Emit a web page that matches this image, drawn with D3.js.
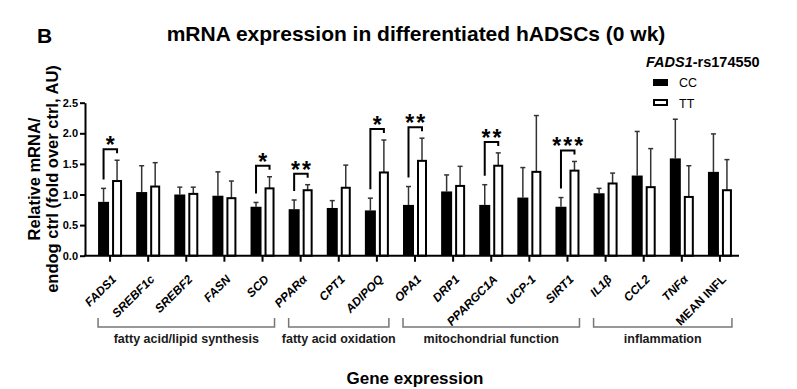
<!DOCTYPE html>
<html>
  <head>
    <meta charset="utf-8">
    <title>mRNA expression in differentiated hADSCs</title>
    <script src="https://cdn.jsdelivr.net/npm/d3@7"></script>
    <style>
      body { margin: 0; background: #fff; }
      svg { font-family: "Liberation Sans", Arial, sans-serif; }
      .tick text { font-weight: bold; }
    </style>
  </head>
  <body>
    <svg id="chart" width="797" height="389"></svg>
    <script>
      // data
      var genes = ["FADS1", "SREBF1c", "SREBF2", "FASN", "SCD", "PPAR\u03b1", "CPT1", "ADIPOQ",
        "OPA1", "DRP1", "PPARGC1A", "UCP-1", "SIRT1", "IL1\u03b2", "CCL2", "TNF\u03b1", "MEAN INFL"];
      var ccMean = [0.88, 1.04, 1.00, 0.98, 0.80, 0.76, 0.78, 0.74, 0.83, 1.05, 0.83, 0.95, 0.80, 1.02, 1.31, 1.59, 1.37];
      var ccErr  = [1.10, 1.47, 1.12, 1.37, 0.87, 0.91, 0.90, 0.94, 1.13, 1.32, 1.16, 1.44, 0.95, 1.10, 2.03, 2.23, 1.99];
      var ttMean = [1.22, 1.13, 1.01, 0.94, 1.10, 1.07, 1.11, 1.36, 1.55, 1.14, 1.47, 1.37, 1.39, 1.18, 1.12, 0.96, 1.07];
      var ttErr  = [1.56, 1.52, 1.12, 1.22, 1.29, 1.16, 1.48, 1.89, 1.92, 1.46, 1.68, 2.29, 1.54, 1.35, 1.75, 1.47, 1.57];
      var sigGenes  = ["FADS1", "SCD", "PPAR\u03b1", "ADIPOQ", "OPA1", "PPARGC1A", "SIRT1"];
      var sigLabels = ["*", "*", "**", "*", "**", "**", "***"];
      var groupNames = ["fatty acid/lipid synthesis", "fatty acid oxidation", "mitochondrial function", "inflammation"];
      var groupFirst = ["FADS1", "PPAR\u03b1", "OPA1", "IL1\u03b2"];
      var groupLast  = ["SCD", "ADIPOQ", "SIRT1", "MEAN INFL"];
      var yTicks = [0, 0.5, 1.0, 1.5, 2.0, 2.5];

      var svg = d3.select("#chart");
      var x = d3.scaleBand().domain(genes).range([91, 739]);
      var y = d3.scaleLinear().domain([0, 2.5]).range([255.7, 102.7]);
      var cx = function(g) { return x(g) + x.bandwidth() / 2; };
      var barW = 10;

      // bars
      var rows = genes.map(function(g, i) {
        return { gene: g, cc: ccMean[i], ccE: ccErr[i], tt: ttMean[i], ttE: ttErr[i] };
      });
      var grp = svg.append("g");
      // error bars first (behind)
      function errBar(sel, off, val, err) {
        sel.append("line")
          .attr("x1", function(d) { return cx(d.gene) + off; })
          .attr("x2", function(d) { return cx(d.gene) + off; })
          .attr("y1", function(d) { return y(d[val]); })
          .attr("y2", function(d) { return y(d[err]); })
          .attr("stroke", "#333").attr("stroke-width", 1.5);
        sel.append("line")
          .attr("x1", function(d) { return cx(d.gene) + off - 2.5; })
          .attr("x2", function(d) { return cx(d.gene) + off + 2.5; })
          .attr("y1", function(d) { return y(d[err]); })
          .attr("y2", function(d) { return y(d[err]); })
          .attr("stroke", "#333").attr("stroke-width", 1.5);
      }
      var g = grp.selectAll("g.gene").data(rows).enter().append("g").attr("class", "gene");
      errBar(g, -6.5, "cc", "ccE");
      errBar(g, 7, "tt", "ttE");
      g.append("rect")
        .attr("x", function(d) { return cx(d.gene) - 12; })
        .attr("width", barW + 1)
        .attr("y", function(d) { return y(d.cc); })
        .attr("height", function(d) { return y(0) - y(d.cc); })
        .attr("fill", "#000");
      g.append("rect")
        .attr("x", function(d) { return cx(d.gene) + 3; })
        .attr("width", barW - 2)
        .attr("y", function(d) { return y(d.tt); })
        .attr("height", function(d) { return y(0) - y(d.tt); })
        .attr("fill", "#fff").attr("stroke", "#000").attr("stroke-width", 2);

      // significance brackets
      sigGenes.forEach(function(s, i) {
        var k = genes.indexOf(s);
        var top = y(ttErr[k]) - 11;
        var xl = cx(s) - 6.5, xr = cx(s) + 7;
        svg.append("path")
          .attr("d", "M" + xl + "," + (y(ccErr[k]) - 9) + "V" + top + "H" + xr + "V" + (top + 4))
          .attr("fill", "none").attr("stroke", "#000").attr("stroke-width", 2);
        svg.append("text")
          .attr("x", (xl + xr) / 2 + 1).attr("y", top + 4)
          .attr("text-anchor", "middle")
          .attr("font-size", 23).attr("font-weight", "bold")
          .attr("letter-spacing", 2)
          .text(sigLabels[i]);
      });

      // axes
      var yAxis = d3.axisLeft(y).tickValues(yTicks).tickFormat(d3.format(".1f"))
        .tickSize(5).tickSizeOuter(0).tickPadding(2);
      var ya = svg.append("g").attr("transform", "translate(85,0)").call(yAxis);
      ya.select(".domain").attr("stroke-width", 2);
      ya.selectAll(".tick line").attr("stroke-width", 2);
      ya.selectAll(".tick text").attr("font-size", 11).attr("font-family", "Liberation Sans");

      var xAxis = d3.axisBottom(x).tickSize(6).tickSizeOuter(0).tickFormat("");
      var xa = svg.append("g").attr("transform", "translate(0," + y(0) + ")").call(xAxis);
      xa.select(".domain").remove();
      xa.selectAll(".tick line").attr("stroke-width", 2);
      svg.append("line").attr("x1", 84).attr("x2", 739)
        .attr("y1", y(0)).attr("y2", y(0))
        .attr("stroke", "#000").attr("stroke-width", 2);

      svg.append("g").selectAll("text").data(genes).enter().append("text")
        .attr("transform", function(d) { return "translate(" + (cx(d) + 7) + ",280) rotate(-45)"; })
        .attr("text-anchor", "end")
        .attr("font-size", 12).attr("font-weight", "bold")
        .attr("font-style", function(d) { return d === "MEAN INFL" ? "normal" : "italic"; })
        .text(function(d) { return d; });

      // category groups
      groupNames.forEach(function(name, i) {
        var x0 = cx(groupFirst[i]) - 12, x1 = cx(groupLast[i]) + 12;
        svg.append("path")
          .attr("d", "M" + x0 + ",318V327H" + x1 + "V318")
          .attr("fill", "none").attr("stroke", "#777").attr("stroke-width", 1.5);
        svg.append("text")
          .attr("x", (x0 + x1) / 2).attr("y", 343)
          .attr("text-anchor", "middle")
          .attr("font-size", 12.5).attr("font-weight", "bold").attr("fill", "#1a1a1a")
          .text(name);
      });

      // titles
      svg.append("text").attr("x", 37).attr("y", 43)
        .attr("font-size", 21).attr("font-weight", "bold").text("B");
      svg.append("text").attr("x", 416).attr("y", 41)
        .attr("text-anchor", "middle")
        .attr("font-size", 21).attr("font-weight", "bold")
        .text("mRNA expression in differentiated hADSCs (0 wk)");
      svg.append("text").attr("x", 415).attr("y", 384)
        .attr("text-anchor", "middle")
        .attr("font-size", 17).attr("font-weight", "bold")
        .text("Gene expression");
      var yl = svg.append("text")
        .attr("transform", "translate(0,179) rotate(-90)")
        .attr("text-anchor", "middle")
        .attr("font-size", 16.5).attr("font-weight", "bold");
      yl.append("tspan").attr("x", 0).attr("y", 40).text("Relative mRNA/");
      yl.append("tspan").attr("x", 0).attr("y", 58).text("endog ctrl (fold over ctrl, AU)");

      // legend
      var lt = svg.append("text").attr("x", 646).attr("y", 67)
        .attr("font-size", 14.5).attr("font-weight", "bold");
      lt.append("tspan").attr("font-style", "italic").text("FADS1");
      lt.append("tspan").text("-rs174550");
      svg.append("rect").attr("x", 653).attr("y", 79).attr("width", 15).attr("height", 7).attr("fill", "#000");
      svg.append("rect").attr("x", 654).attr("y", 100).attr("width", 13).attr("height", 5)
        .attr("fill", "#fff").attr("stroke", "#000").attr("stroke-width", 2);
      svg.append("text").attr("x", 679).attr("y", 87).attr("font-size", 12.5).text("CC");
      svg.append("text").attr("x", 679).attr("y", 108).attr("font-size", 12.5).text("TT");
    </script>
  </body>
</html>
